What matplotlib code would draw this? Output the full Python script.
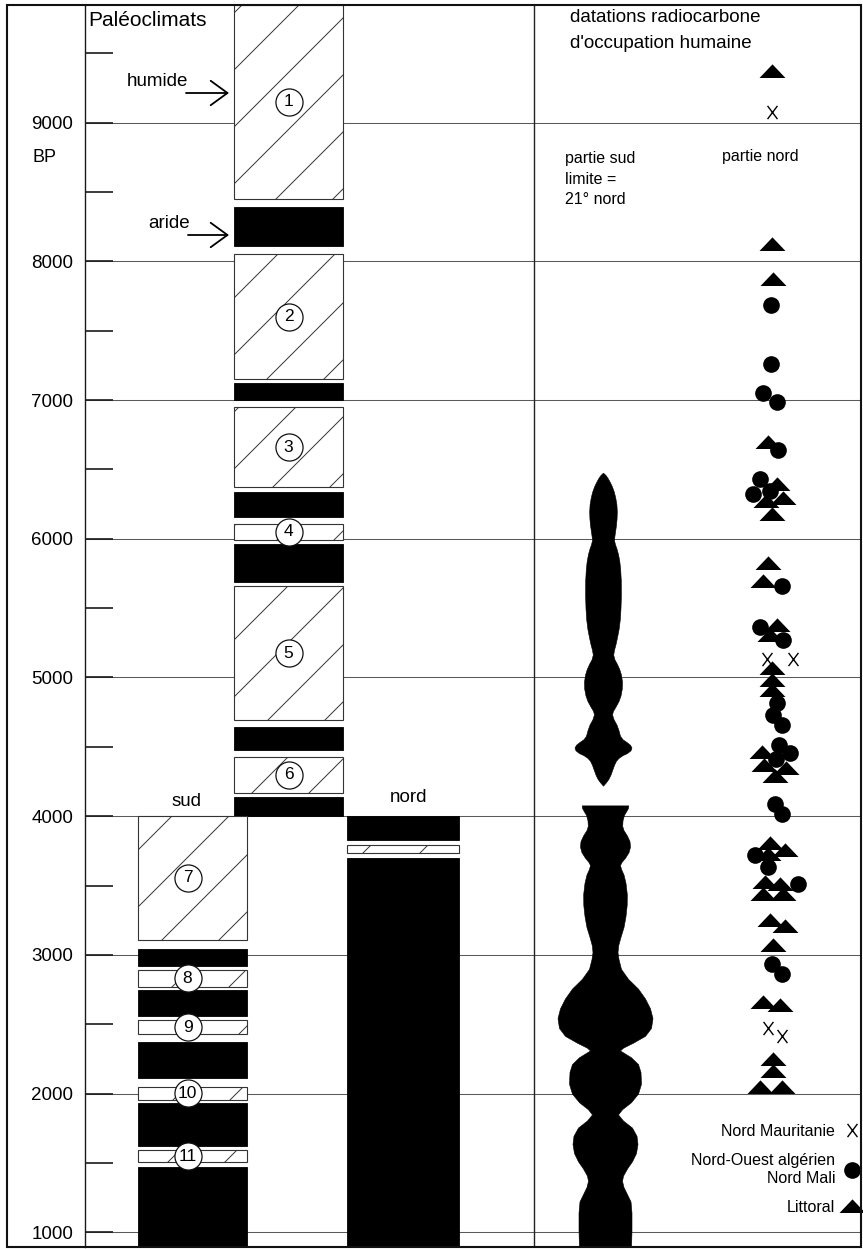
import math
import matplotlib
matplotlib.use("Agg")
import matplotlib.pyplot as plt
import matplotlib.transforms as mtransforms
from matplotlib.patches import Rectangle
from matplotlib.lines import Line2D
from matplotlib.path import Path
from matplotlib.ticker import MultipleLocator

plt.rcParams['font.family'] = ['Liberation Sans', 'DejaVu Sans']

# ---------------- data (years BP) ----------------
# central column (before 4000 BP): humid (hatched) / arid (black) phases
central_top = [9850, 8390, 8050, 7120, 6950, 6340, 6110, 5960, 5660, 4640, 4430, 4135]
central_bottom = [8450, 8110, 7150, 7000, 6370, 6160, 5990, 5690, 4690, 4480, 4170, 4000]
central_kind = ['humide', 'aride', 'humide', 'aride', 'humide', 'aride',
                'humide', 'aride', 'humide', 'aride', 'humide', 'aride']
central_label = ['1', '', '2', '', '3', '', '4', '', '5', '', '6', '']

# southern column after 4000 BP
sud_top = [4000, 3040, 2890, 2745, 2530, 2375, 2050, 1930, 1590, 1470]
sud_bottom = [3110, 2920, 2770, 2560, 2430, 2110, 1955, 1625, 1510, 880]
sud_kind = ['humide', 'aride', 'humide', 'aride', 'humide', 'aride',
            'humide', 'aride', 'humide', 'aride']
sud_label = ['7', '', '8', '', '9', '', '10', '', '11', '']

# northern column after 4000 BP
nord_top = [4000, 3793, 3700]
nord_bottom = [3830, 3738, 880]
nord_kind = ['aride', 'humide', 'aride']

# density of radiocarbon dates, southern part (half width of the silhouette)
sud_density_upper_bp = [6477, 6460, 6440, 6410, 6380, 6340, 6300, 6250, 6200, 6150,
                        6100, 6060, 6020, 5990, 5960, 5930, 5890, 5840, 5780, 5700,
                        5600, 5500, 5420, 5350, 5290, 5240, 5200, 5165, 5130, 5100,
                        5060, 5020, 4970, 4920, 4870, 4830, 4790, 4760, 4735, 4700,
                        4660, 4620, 4580, 4555, 4535, 4515, 4495, 4475, 4455, 4440,
                        4420, 4400, 4370, 4340, 4300, 4270, 4245, 4220]
sud_density_upper = [0, 2.5, 4.5, 6.8, 8.8, 10.8, 12.2, 13.4, 13.8, 13.6,
                     13.0, 12.2, 11.4, 11.0, 12.0, 13.5, 15.0, 16.3, 17.2, 17.8,
                     17.9, 17.5, 16.8, 15.6, 14.0, 12.5, 11.0, 10.2, 11.5, 13.8,
                     16.3, 18.0, 19.0, 18.8, 17.5, 15.5, 12.5, 10.0, 9.0, 10.5,
                     13.5, 15.5, 17.0, 19.5, 23.5, 27.0, 28.5, 27.5, 24.0, 19.5,
                     15.5, 13.0, 11.0, 9.5, 7.5, 5.5, 3.0, 0]
sud_density_lower_bp = [4078, 4060, 4040, 4010, 3970, 3930, 3900, 3860, 3820, 3780,
                        3740, 3700, 3670, 3648, 3620, 3580, 3520, 3440, 3360, 3280,
                        3200, 3130, 3070, 3020, 2970, 2899, 2828, 2757, 2686, 2615,
                        2544, 2473, 2416, 2367, 2331, 2311, 2262, 2213, 2156, 2071,
                        2000, 1938, 1887, 1850, 1806, 1755, 1696, 1637, 1571, 1512,
                        1460, 1408, 1371, 1327, 1275, 1223, 1142, 1017, 880]
sud_density_lower = [23.3, 23.0, 21.5, 19.0, 17.5, 17.2, 18.5, 22.0, 24.5, 25.0,
                     23.5, 20.0, 16.5, 15.0, 16.0, 18.5, 20.5, 21.8, 21.7, 20.5,
                     18.5, 15.5, 13.2, 12.5, 13.5, 16.0, 23.0, 33.0, 40.0, 45.0,
                     47.5, 46.0, 40.0, 28.0, 18.0, 15.0, 26.0, 33.0, 35.5, 36.0,
                     33.0, 26.0, 17.0, 13.0, 18.0, 27.0, 31.5, 32.5, 31.0, 27.0,
                     22.0, 18.0, 17.0, 18.5, 22.0, 25.5, 26.5, 26.5, 26.0]

# radiocarbon dates, northern part
mauritanie_bp = [9075, 5134, 5134, 2473, 2414]
algerie_mali_bp = [7683, 7261, 7050, 6988, 6637, 6434, 6325, 6346, 5662, 5364,
                   5272, 4814, 4729, 4657, 4511, 4453, 4409, 4087, 4015, 3719,
                   3633, 3510, 2934, 2863]
littoral_bp = [9373, 8129, 7873, 6697, 6397, 6296, 6274, 6180, 5828, 5697,
               5375, 5306, 5066, 4983, 4911, 4460, 4366, 4351, 4293, 3805,
               3756, 3729, 3523, 3510, 3436, 3436, 3254, 3205, 3068, 2662,
               2638, 2248, 2166, 2047, 2047]

series_labels = ['Nord Mauritanie', 'Nord-Ouest algérien\nNord Mali', 'Littoral']

# horizontal spread of overlapping symbols inside the "partie nord" column (px)
mauritanie_dx = [0, -5, 21, -4, 10]
algerie_mali_dx = [-1, -1, -9, 5, 6, -12, -19, -2, 10, -12,
                   11, 5, 1, 10, 7, 18, 4, 3, 10, -17,
                   -4, 26, 0, 10]
littoral_dx = [0, 0, 1, -4, 5, 11, -6, 0, -4, -9,
               5, -2, 0, 0, 0, -10, -8, 14, 3, -2,
               13, -4, -7, 8, -9, 11, -2, 13, 1, -9,
               8, 1, 1, -12, 10]

# ---------------- figure ----------------
W, H, DPI = 863, 1249, 100
fig = plt.figure(figsize=(W / DPI, H / DPI), dpi=DPI)
fig.patch.set_facecolor('white')
PX = mtransforms.Affine2D().scale(1, -1).translate(0, H)   # pixel coords, origin top-left

LEFT, RIGHT, TOP, BOTTOM = 85, 861, 5, 1247
ax = fig.add_axes([LEFT / W, (H - BOTTOM) / H, (RIGHT - LEFT) / W, (BOTTOM - TOP) / H])
ymin = 9000 - (BOTTOM - 122.7) / 138.7 * 1000
ymax = 9000 + (122.7 - TOP) / 138.7 * 1000
ax.set_xlim(LEFT, RIGHT)
ax.set_ylim(ymin, ymax)
ax.set_facecolor('white')

for s in ['top', 'right', 'bottom']:
    ax.spines[s].set_visible(False)
ax.spines['left'].set_linewidth(1.0)
ax.spines['left'].set_color('#1a1a1a')

ax.yaxis.set_major_locator(MultipleLocator(1000))
ax.yaxis.set_minor_locator(MultipleLocator(500))
ax.tick_params(axis='y', which='both', direction='in', length=20, width=1.2,
               color='#1a1a1a', labelsize=13.5, pad=8.6)
ax.tick_params(axis='x', which='both', bottom=False, labelbottom=False)
ax.set_axisbelow(True)
ax.yaxis.grid(True, which='major', color='#5a5a5a', lw=0.75)

# outer frame and column divider
fig.add_artist(Rectangle((7 / W, (H - BOTTOM) / H), (RIGHT - 7) / W, (BOTTOM - TOP) / H,
                         transform=fig.transFigure, fill=False, ec='#111111', lw=1.5))
ax.axvline(534, color='#222222', lw=1.0, zorder=1)

k = ax.bbox.height / (ymax - ymin)   # px per year
HATCH_SP, HATCH_PHASE = 57.0, 31.0


def hatch(x0, x1, b, t, clip):
    v0, v1 = (b - ymin) * k, (t - ymin) * k
    cmin, cmax = v0 - x1, v1 - x0
    n0 = math.floor((cmin - HATCH_PHASE) / HATCH_SP)
    n1 = math.ceil((cmax - HATCH_PHASE) / HATCH_SP)
    for n in range(n0, n1 + 1):
        c = HATCH_PHASE + n * HATCH_SP
        ln = Line2D([x0, x1], [ymin + (x0 + c) / k, ymin + (x1 + c) / k],
                    lw=0.7, color='#333333', zorder=3.5)
        ax.add_line(ln)
        ln.set_clip_path(clip)


def column(x0, x1, tops, bottoms, kinds, labels=None, label_dx=0):
    labels = labels or [''] * len(tops)
    for t, b, kind, lab in zip(tops, bottoms, kinds, labels):
        if kind == 'aride':
            ax.add_patch(Rectangle((x0, b), x1 - x0, t - b, fc='black', ec='black',
                                   lw=0.6, zorder=3))
        else:
            r = Rectangle((x0, b), x1 - x0, t - b, fc='white', ec='#333333', lw=0.8, zorder=3)
            ax.add_patch(r)
            hatch(x0, x1, b, t, r)
        if lab:
            yc = (min(t, ymax) + b) / 2
            xc = (x0 + x1) / 2 + label_dx
            ax.plot([xc], [yc], marker='o', ms=19.5, mfc='white', mec='#111111',
                    mew=0.9, zorder=5)
            ax.text(xc, yc, lab, ha='center', va='center', fontsize=12.5, zorder=6)


column(234, 343, central_top, central_bottom, central_kind, central_label, 0)
column(138, 247, sud_top, sud_bottom, sud_kind, sud_label, -5)
column(347, 459, nord_top, nord_bottom, nord_kind)

# silhouette of date density, southern part
for bp, hw, xc in [(sud_density_upper_bp, sud_density_upper, 603),
                   (sud_density_lower_bp, sud_density_lower, 605)]:
    ax.fill_betweenx(bp, [xc - w for w in hw], [xc + w for w in hw],
                     color='black', lw=0.4, ec='black', zorder=3)

# symbols, northern part
NC = 772
tri = Path([(-1, -0.5), (1, -0.5), (0, 0.55), (-1, -0.5)],
           [Path.MOVETO, Path.LINETO, Path.LINETO, Path.CLOSEPOLY])
xm = Path([(-0.75, -1), (0.75, 1), (-0.75, 1), (0.75, -1)],
          [Path.MOVETO, Path.LINETO, Path.MOVETO, Path.LINETO])

h_x, = ax.plot([NC + d for d in mauritanie_dx], mauritanie_bp, ls='none', marker=xm,
               ms=9.5, mew=1.0, color='black', zorder=4)
h_o, = ax.plot([NC + d for d in algerie_mali_dx], algerie_mali_bp, ls='none', marker='o',
               ms=12, mew=0, color='black', zorder=4)
h_t, = ax.plot([NC + d for d in littoral_dx], littoral_bp, ls='none', marker=tri,
               ms=18.7, mew=0, color='black', zorder=4)

leg = ax.legend([h_x, h_o, h_t], series_labels, loc='lower right', markerfirst=False,
                frameon=False, fontsize=11.5, handlelength=1.0, handletextpad=0.55,
                labelspacing=0.9, borderpad=0, borderaxespad=0,
                bbox_to_anchor=((860 - LEFT) / (RIGHT - LEFT), (BOTTOM - 1215) / (BOTTOM - TOP)))
for t in leg.get_texts():
    t.set_multialignment('right')

# texts
fs = 13.5
fig.text(88, 20, 'Paléoclimats', transform=PX, fontsize=15, va='center', ha='left')
fig.text(33, 157, 'BP', transform=PX, fontsize=13, va='center', ha='left')
fig.text(188, 82, 'humide', transform=PX, fontsize=fs, va='center', ha='right')
fig.text(190, 223, 'aride', transform=PX, fontsize=fs, va='center', ha='right')
fig.text(187, 802, 'sud', transform=PX, fontsize=fs, va='center', ha='center')
fig.text(409, 797, 'nord', transform=PX, fontsize=fs, va='center', ha='center')
fig.text(570, 18, 'datations radiocarbone', transform=PX, fontsize=fs, va='center')
fig.text(570, 43, "d'occupation humaine", transform=PX, fontsize=fs, va='center')
for i, line in enumerate(['partie sud', 'limite =', '21° nord']):
    fig.text(565, 159 + 20 * i, line, transform=PX, fontsize=11.5, va='center')
fig.text(722, 157, 'partie nord', transform=PX, fontsize=11.5, va='center')

for (x0, x1, y) in [(186, 229, 93), (188, 229, 235)]:
    ax.annotate('', xy=(x1, y), xytext=(x0, y), xycoords=PX, textcoords=PX,
                arrowprops=dict(arrowstyle='->,head_length=0.55,head_width=0.4',
                                lw=1.3, color='black', mutation_scale=22,
                                shrinkA=0, shrinkB=0))

fig.savefig('out.png', dpi=DPI)
